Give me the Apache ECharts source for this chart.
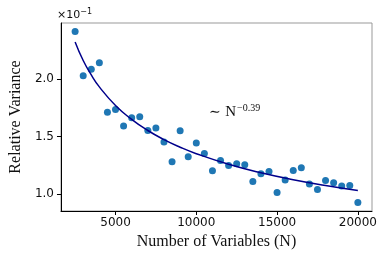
<!DOCTYPE html>
<html>
<head>
<meta charset="utf-8">
<script src="https://cdn.jsdelivr.net/npm/echarts@6/dist/echarts.min.js"></script>
<style>html,body{margin:0;padding:0;background:#fff}#c{width:390px;height:260px}</style>
</head>
<body>
<div id="c"></div>
<script>
var xValues = [2500,3000,3500,4000,4500,5000,5500,6000,6500,7000,7500,8000,8500,9000,9500,10000,10500,11000,11500,12000,12500,13000,13500,14000,14500,15000,15500,16000,16500,17000,17500,18000,18500,19000,19500,20000];
var yValues = [2.41,2.026,2.084,2.139,1.711,1.734,1.590,1.662,1.671,1.552,1.573,1.452,1.281,1.549,1.324,1.443,1.353,1.203,1.292,1.249,1.263,1.255,1.110,1.177,1.197,1.015,1.122,1.205,1.229,1.088,1.041,1.119,1.099,1.070,1.075,0.928];
var fitX = [2500,3000,3500,4000,5000,6000,7000,8000,9000,10000,12000,14000,16000,18000,20000];
var fitY = [2.320,2.159,2.034,1.930,1.769,1.648,1.552,1.473,1.407,1.351,1.259,1.185,1.125,1.075,1.031];
var xTicks = [5000,10000,15000,20000];
var yTicks = [1.0,1.5,2.0];

var chart = echarts.init(document.getElementById('c'), null, {renderer:'canvas'});
chart.setOption({
  animation:false,
  backgroundColor:'#fff',
  grid:{left:57, right:18, top:23, bottom:49, show:true, borderColor:'#999', borderWidth:1, containLabel:false},
  xAxis:{
    type:'value', min:1625, max:20875,
    name:'Number of Variables (N)', nameLocation:'middle', nameGap:19,
    nameTextStyle:{fontFamily:'Liberation Serif', fontSize:16, color:'#111'},
    axisLine:{show:true, lineStyle:{color:'#000', width:1}},
    axisTick:{show:true, length:4, inside:false, customValues:xTicks, lineStyle:{color:'#000'}},
    axisLabel:{customValues:xTicks, fontFamily:'DejaVu Sans', fontSize:12, color:'#111', margin:6,
      formatter:function(v){return String(Math.round(v));}},
    splitLine:{show:false}
  },
  yAxis:{
    type:'value', min:0.854, max:2.484,
    name:'Relative Variance', nameLocation:'middle', nameGap:28, nameRotate:90,
    nameTextStyle:{fontFamily:'Liberation Serif', fontSize:16, color:'#111'},
    axisLine:{show:true, lineStyle:{color:'#000', width:1}},
    axisTick:{show:true, length:4, inside:false, customValues:yTicks, lineStyle:{color:'#000'}},
    axisLabel:{customValues:yTicks, fontFamily:'DejaVu Sans', fontSize:12, color:'#111', margin:7,
      formatter:function(v){return v.toFixed(1);}},
    splitLine:{show:false}
  },
  series:[
    {type:'scatter', data:xValues.map(function(x,i){return [x,yValues[i]];}), symbolSize:7,
     itemStyle:{color:'#1f77b4', opacity:1}, z:2},
    {type:'line', data:fitX.map(function(x,i){return [x,fitY[i]];}), smooth:true, showSymbol:false,
     lineStyle:{color:'#00008b', width:1.5}, z:3}
  ],
  graphic:[
    {type:'text', left:57, top:8, style:{
      text:'{a|×10}{b|−1}', rich:{a:{fontFamily:'DejaVu Sans', fontSize:11, fill:'#111'}, b:{fontFamily:'DejaVu Sans', fontSize:8, fill:'#111', verticalAlign:'top', padding:[0,0,6,0]}}
    }},
    {type:'text', left:209, top:103, style:{
      text:'{t|∼ }{a|N}{b|−0.39}', rich:{t:{fontFamily:'DejaVu Serif', fontSize:14, fill:'#111'}, a:{fontFamily:'Liberation Serif', fontSize:15, fill:'#111'}, b:{fontFamily:'Liberation Serif', fontSize:10, fill:'#111', padding:[0,0,9,1]}}
    }}
  ]
});
</script>
</body>
</html>
